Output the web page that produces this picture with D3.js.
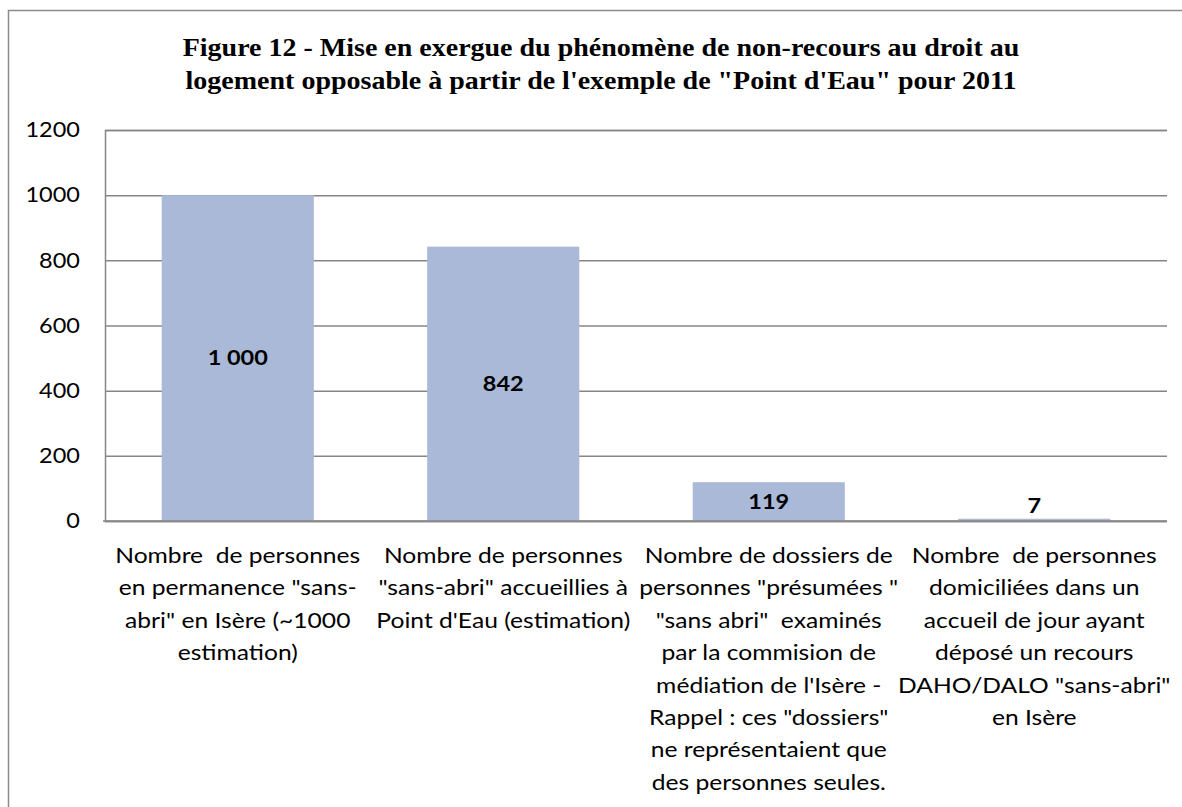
<!DOCTYPE html>
<html>
<head>
<meta charset="utf-8">
<script src="https://cdn.jsdelivr.net/npm/d3@7"></script>
<style>
  html, body { margin: 0; padding: 0; background: #fff; }
  svg { display: block; }
</style>
</head>
<body>
<svg id="chart" width="1182" height="807"></svg>
<script>
// ---- data ----
const titleLines = [
  "Figure 12 - Mise en exergue du phénomène de non-recours au droit au",
  "logement opposable à partir de l'exemple de \"Point d'Eau\" pour 2011"
];
const categories = ["c1", "c2", "c3", "c4"];
const categoryLabels = [
  ["Nombre  de personnes", "en permanence \"sans-", "abri\" en Isère (~1000", "estimation)"],
  ["Nombre de personnes", "\"sans-abri\" accueillies à", "Point d'Eau (estimation)"],
  ["Nombre de dossiers de", "personnes \"présumées \"", "\"sans abri\"  examinés", "par la commision de", "médiation de l'Isère -", "Rappel : ces \"dossiers\"", "ne représentaient que", "des personnes seules."],
  ["Nombre  de personnes", "domiciliées dans un", "accueil de jour ayant", "déposé un recours", "DAHO/DALO \"sans-abri\"", "en Isère"]
];
const values = [1000, 842, 119, 7];
const valueLabels = ["1 000", "842", "119", "7"];
const yTicks = [0, 200, 400, 600, 800, 1000, 1200];

// ---- layout ----
const svg = d3.select("#chart");
const plot = { left: 105, right: 1167, top: 130, bottom: 521 };
const bodyFont = "Lato, 'Open Sans', sans-serif";
const sx = 1.12; // horizontal stretch of the reference's text

// outer frame
svg.append("rect")
  .attr("x", 8.5).attr("y", 10.5)
  .attr("width", 1300).attr("height", 1000)
  .attr("fill", "#fff")
  .attr("stroke", "#8c8c8c").attr("stroke-width", 1.5);

// title
const title = svg.append("text")
  .attr("transform", `translate(601,56) scale(${sx},1)`)
  .attr("text-anchor", "middle")
  .attr("font-family", "'Liberation Serif', 'Times New Roman', serif")
  .attr("font-weight", "bold")
  .attr("font-size", 25)
  .attr("fill", "#000");
title.selectAll("tspan").data(titleLines).join("tspan")
  .attr("x", 0)
  .attr("y", (d, i) => i * 33)
  .text(d => d);

// scales
const x = d3.scaleBand()
  .domain(categories)
  .range([plot.left, plot.right])
  .paddingInner(0.427)
  .paddingOuter(0.2135);
const y = d3.scaleLinear()
  .domain([0, 1200])
  .range([plot.bottom, plot.top]);

// y axis with gridlines
const yAxis = d3.axisLeft(y)
  .tickValues(yTicks)
  .tickSize(-(plot.right - plot.left))
  .tickPadding(26)
  .tickFormat(d3.format("d"));
const gy = svg.append("g")
  .attr("transform", `translate(${plot.left},0)`)
  .call(yAxis);
gy.select(".domain").attr("stroke", "#868686").attr("stroke-width", 1.5);
gy.selectAll(".tick line").attr("stroke", "#868686").attr("stroke-width", 1.5);
gy.selectAll(".tick text")
  .attr("x", -25 / sx)
  .attr("transform", `scale(${sx},1)`)
  .attr("font-family", bodyFont)
  .attr("font-size", 21)
  .attr("fill", "#000");

// bars
svg.append("g").selectAll("rect")
  .data(values)
  .join("rect")
  .attr("x", (d, i) => x(categories[i]))
  .attr("y", d => y(d))
  .attr("width", x.bandwidth())
  .attr("height", d => y(0) - y(d))
  .attr("fill", "#aab9d7");

// x axis baseline
svg.append("line")
  .attr("x1", plot.left - 2).attr("x2", plot.right)
  .attr("y1", y(0)).attr("y2", y(0))
  .attr("stroke", "#868686").attr("stroke-width", 1.5);

// value labels (inside center, kept clear of the axis)
svg.append("g").selectAll("text")
  .data(values)
  .join("text")
  .attr("transform", (d, i) => {
    const cx = x(categories[i]) + x.bandwidth() / 2;
    const cy = Math.min((y(d) + y(0)) / 2, y(0) - 15);
    return `translate(${cx},${cy}) scale(${sx},1)`;
  })
  .attr("dy", "0.35em")
  .attr("text-anchor", "middle")
  .attr("font-family", bodyFont)
  .attr("font-weight", "bold")
  .attr("font-size", 21)
  .attr("fill", "#000")
  .text((d, i) => valueLabels[i]);

// category labels
const cl = svg.append("g").selectAll("text")
  .data(categoryLabels)
  .join("text")
  .attr("transform", (d, i) => `translate(${x(categories[i]) + x.bandwidth() / 2},563) scale(${sx},1)`)
  .attr("text-anchor", "middle")
  .attr("font-family", bodyFont)
  .attr("font-size", 22)
  .attr("fill", "#000")
  .attr("xml:space", "preserve")
  .style("white-space", "pre");
cl.each(function(lines) {
  d3.select(this).selectAll("tspan").data(lines).join("tspan")
    .attr("x", 0)
    .attr("y", (d, j) => j * 32.4)
    .text(d => d);
});
</script>
</body>
</html>
